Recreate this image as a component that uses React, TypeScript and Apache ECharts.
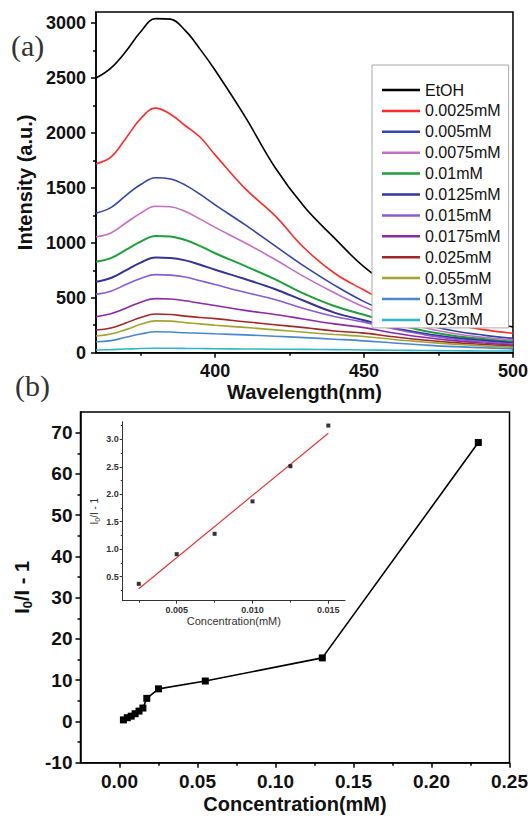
import React, { useEffect, useRef } from 'react';
import * as echarts from 'echarts';

// ---------- (a) emission spectra ----------
const wavelengths = [360, 365, 370, 375, 380, 385, 390, 395, 400, 410, 420, 430, 440, 450, 460, 470, 480, 490, 500];
const spectraNames = ['EtOH', '0.0025mM', '0.005mM', '0.0075mM', '0.01mM', '0.0125mM', '0.015mM', '0.0175mM', '0.025mM', '0.055mM', '0.13mM', '0.23mM'];
const etoh = [2500, 2590, 2740, 2920, 3040, 3035, 2930, 2760, 2570, 2150, 1690, 1325, 1045, 780, 590, 455, 360, 290, 235];
const c0025 = [1720, 1780, 1950, 2130, 2225, 2170, 2065, 1960, 1800, 1495, 1250, 950, 725, 570, 430, 330, 260, 210, 176];
const c005 = [1270, 1320, 1430, 1530, 1592, 1580, 1525, 1440, 1345, 1165, 975, 785, 615, 465, 350, 260, 200, 160, 130];
const c0075 = [1055, 1090, 1180, 1270, 1333, 1328, 1285, 1215, 1140, 1000, 850, 690, 545, 415, 310, 230, 175, 140, 115];
const c01 = [827, 860, 935, 1010, 1062, 1058, 1025, 970, 905, 790, 670, 535, 425, 345, 265, 200, 155, 125, 100];
const c0125 = [645, 680, 750, 820, 866, 862, 840, 800, 755, 670, 580, 470, 365, 295, 225, 175, 135, 110, 90];
const c015 = [531, 560, 620, 675, 710, 706, 688, 655, 620, 550, 485, 400, 330, 278, 215, 165, 125, 100, 80];
const c0175 = [327, 355, 405, 460, 492, 488, 472, 450, 430, 385, 348, 305, 262, 228, 180, 140, 110, 88, 70];
const c025 = [206, 225, 270, 320, 352, 348, 333, 320, 310, 282, 255, 228, 198, 178, 145, 115, 92, 75, 60];
const c055 = [152, 170, 210, 258, 290, 287, 274, 262, 250, 230, 208, 186, 165, 148, 120, 98, 78, 62, 50];
const c13 = [100, 110, 140, 170, 190, 188, 181, 177, 172, 162, 150, 137, 123, 108, 88, 70, 55, 45, 35];
const c23 = [25, 28, 33, 38, 40, 40, 39, 38, 36, 34, 32, 30, 28, 25, 22, 20, 18, 16, 15];
const spectra = [etoh, c0025, c005, c0075, c01, c0125, c015, c0175, c025, c055, c13, c23];
const spectraColors = ['#000000', '#ff2a2a', '#3344aa', '#c46ec4', '#1f9e3c', '#33339a', '#8a5ad0', '#8a2aa5', '#a02828', '#a3a332', '#4a88cc', '#2fb8c4'];

const xTicksA = [400, 450, 500];
const xMinorA = [375, 425, 475];
const yTicksA = [0, 500, 1000, 1500, 2000, 2500, 3000];
const yMinorA = [250, 750, 1250, 1750, 2250, 2750];

// ---------- (b) Stern-Volmer ----------
const concentrations = [0.0025, 0.005, 0.0075, 0.01, 0.0125, 0.015, 0.0175, 0.025, 0.055, 0.13, 0.23];
const quenching = [0.37, 0.91, 1.28, 1.87, 2.51, 3.25, 5.6, 7.9, 9.8, 15.4, 67.6];
const xTicksB = [0, 0.05, 0.1, 0.15, 0.2, 0.25];
const xMinorB = [0.025, 0.075, 0.125, 0.175, 0.225];
const yTicksB = [-10, 0, 10, 20, 30, 40, 50, 60, 70];
const yMinorB = [-5, 5, 15, 25, 35, 45, 55, 65];

// ---------- inset ----------
const insetConc = [0.0025, 0.005, 0.0075, 0.01, 0.0125, 0.015];
const insetQuench = [0.37, 0.91, 1.28, 1.87, 2.51, 3.25];
const fitConc = [0.0025, 0.015];
const fitValues = [0.28, 3.11];
const xTicksIn = [0.005, 0.01, 0.015];
const xMinorIn = [0.0025, 0.0075, 0.0125];
const yTicksIn = [0.5, 1.0, 1.5, 2.0, 2.5, 3.0];
const yMinorIn = [0.25, 0.75, 1.25, 1.75, 2.25, 2.75, 3.25];

const FONT = '"Liberation Sans", Arial, Helvetica, sans-serif';
const SERIF = '"Liberation Serif", "Times New Roman", serif';

function majorAxis(o: any) {
  return {
    type: 'value',
    gridIndex: o.grid,
    min: o.min,
    max: o.max,
    position: o.position,
    axisLine: { show: true, onZero: false, lineStyle: { color: o.lineColor || '#000', width: o.lineWidth || 1.5 } },
    axisTick: { show: true, customValues: o.ticks, length: o.tickLen || 5, lineStyle: { color: o.lineColor || '#000', width: o.lineWidth || 1.5 } },
    axisLabel: {
      show: true,
      customValues: o.ticks,
      margin: o.margin,
      fontSize: o.fontSize,
      fontWeight: 'bold',
      color: o.labelColor || '#111',
      fontFamily: FONT,
      formatter: o.formatter || ((v: number) => String(v)),
    },
    splitLine: { show: false },
    name: o.name,
    nameLocation: 'middle',
    nameGap: o.nameGap,
    nameTextStyle: o.nameTextStyle,
  };
}

function minorAxis(o: any) {
  return {
    type: 'value',
    gridIndex: o.grid,
    min: o.min,
    max: o.max,
    position: o.position,
    axisLine: { show: false, onZero: false },
    axisTick: { show: true, customValues: o.ticks, length: o.tickLen || 3, lineStyle: { color: o.lineColor || '#000', width: o.lineWidth || 1.5 } },
    axisLabel: { show: false },
    splitLine: { show: false },
  };
}

export default function App() {
  const ref = useRef<HTMLDivElement>(null);
  useEffect(() => {
    const chart = echarts.init(ref.current!, null, { renderer: 'svg' });
    const spectraSeries = spectraNames.map((name, i) => ({
      name,
      type: 'line',
      xAxisIndex: 0,
      yAxisIndex: 0,
      data: wavelengths.map((w, j) => [w, spectra[i][j]]),
      smooth: 0.4,
      showSymbol: false,
      symbol: 'none',
      lineStyle: { color: spectraColors[i], width: i === 4 || i === 5 ? 2 : 1.6 },
      itemStyle: { color: spectraColors[i] },
    }));

    const option: any = {
      animation: false,
      backgroundColor: '#fff',
      grid: [
        { left: 96, top: 12, width: 420, height: 340.7, show: true, borderColor: '#000', borderWidth: 1.5, backgroundColor: 'transparent' },
        { left: 80.5, top: 412, width: 432, height: 350.7, show: true, borderColor: '#000', borderWidth: 1.5, backgroundColor: 'transparent' },
        { left: 122.7, top: 421.7, width: 222.3, height: 179 },
      ],
      legend: {
        left: 372,
        top: 65,
        z: 50,
        orient: 'vertical',
        padding: [17, 8, 0, 10],
        itemGap: 4.9,
        itemWidth: 38,
        itemHeight: 2.5,
        icon: 'rect',
        borderColor: '#aaa',
        borderWidth: 1,
        backgroundColor: '#fff',
        textStyle: { fontSize: 16, lineHeight: 16, color: '#111', fontFamily: FONT },
        data: spectraNames,
      },
      xAxis: [
        majorAxis({
          grid: 0, min: 360, max: 500, position: 'bottom', ticks: xTicksA, margin: 9, fontSize: 18,
          name: 'Wavelength(nm)', nameGap: 29,
          nameTextStyle: { fontSize: 20, fontWeight: 'bold', color: '#111', fontFamily: FONT },
        }),
        minorAxis({ grid: 0, min: 360, max: 500, position: 'bottom', ticks: xMinorA }),
        majorAxis({
          grid: 1, min: -0.025, max: 0.25, position: 'bottom', ticks: xTicksB, margin: 9, fontSize: 19,
          formatter: (v: number) => v.toFixed(2),
          name: 'Concentration(mM)', nameGap: 31,
          nameTextStyle: { fontSize: 20, fontWeight: 'bold', color: '#111', fontFamily: FONT },
        }),
        minorAxis({ grid: 1, min: -0.025, max: 0.25, position: 'bottom', ticks: xMinorB }),
        majorAxis({
          grid: 2, min: 0.00144, max: 0.0161, position: 'bottom', ticks: xTicksIn, margin: 5, fontSize: 9,
          tickLen: 3, lineWidth: 1, lineColor: '#333', labelColor: '#333',
          formatter: (v: number) => v.toFixed(3),
          name: 'Concentration(mM)', nameGap: 15,
          nameTextStyle: { fontSize: 11, color: '#333', fontFamily: FONT },
        }),
        minorAxis({ grid: 2, min: 0.00144, max: 0.0161, position: 'bottom', ticks: xMinorIn, tickLen: 2, lineWidth: 1, lineColor: '#333' }),
      ],
      yAxis: [
        majorAxis({
          grid: 0, min: 0, max: 3100, position: 'left', ticks: yTicksA, margin: 10, fontSize: 18,
          name: 'Intensity (a.u.)', nameGap: 55,
          nameTextStyle: { fontSize: 20, fontWeight: 'bold', color: '#111', fontFamily: FONT },
        }),
        minorAxis({ grid: 0, min: 0, max: 3100, position: 'left', ticks: yMinorA }),
        majorAxis({
          grid: 1, min: -10, max: 75, position: 'left', ticks: yTicksB, margin: 8, fontSize: 19,
          name: '{i|I}{s|0}{i|/I - 1}', nameGap: 42,
          nameTextStyle: {
            rich: {
              i: { fontSize: 20, fontWeight: 'bold', color: '#111', fontFamily: FONT, lineHeight: 24 },
              s: { fontSize: 13, fontWeight: 'bold', color: '#111', fontFamily: FONT, lineHeight: 12, verticalAlign: 'bottom' },
            },
          },
        }),
        minorAxis({ grid: 1, min: -10, max: 75, position: 'left', ticks: yMinorB }),
        majorAxis({
          grid: 2, min: 0.063, max: 3.32, position: 'left', ticks: yTicksIn, margin: 4, fontSize: 9,
          tickLen: 3, lineWidth: 1, lineColor: '#333', labelColor: '#333',
          formatter: (v: number) => v.toFixed(1),
          name: '{i|I}{s|0}{i|/I - 1}', nameGap: 22,
          nameTextStyle: {
            rich: {
              i: { fontSize: 10, color: '#333', fontFamily: FONT, lineHeight: 12 },
              s: { fontSize: 7, color: '#333', fontFamily: FONT, lineHeight: 6, verticalAlign: 'bottom' },
            },
          },
        }),
        minorAxis({ grid: 2, min: 0.063, max: 3.32, position: 'left', ticks: yMinorIn, tickLen: 2, lineWidth: 1, lineColor: '#333' }),
      ],
      graphic: [
        { type: 'text', left: 11, top: 30, style: { text: '(a)', font: '30px ' + SERIF, fill: '#333' } },
        { type: 'text', left: 15, top: 370, style: { text: '(b)', font: '30px ' + SERIF, fill: '#333' } },
      ],
      series: [
        ...spectraSeries,
        {
          name: 'quench',
          type: 'line',
          xAxisIndex: 2,
          yAxisIndex: 2,
          data: concentrations.map((c, i) => [c, quenching[i]]),
          symbol: 'rect',
          symbolSize: 7,
          lineStyle: { color: '#000', width: 1.6 },
          itemStyle: { color: '#000' },
        },
        {
          name: 'fit',
          type: 'line',
          xAxisIndex: 4,
          yAxisIndex: 4,
          data: fitConc.map((c, i) => [c, fitValues[i]]),
          showSymbol: false,
          symbol: 'none',
          lineStyle: { color: '#e83535', width: 1.2 },
        },
        {
          name: 'insetPoints',
          type: 'scatter',
          xAxisIndex: 4,
          yAxisIndex: 4,
          data: insetConc.map((c, i) => [c, insetQuench[i]]),
          symbol: 'rect',
          symbolSize: 4,
          itemStyle: { color: '#000' },
          z: 5,
        },
      ],
    };
    chart.setOption(option);
    return () => chart.dispose();
  }, []);
  return <div ref={ref} style={{ position: 'fixed', left: 0, top: 0, width: 531, height: 818 }} />;
}
